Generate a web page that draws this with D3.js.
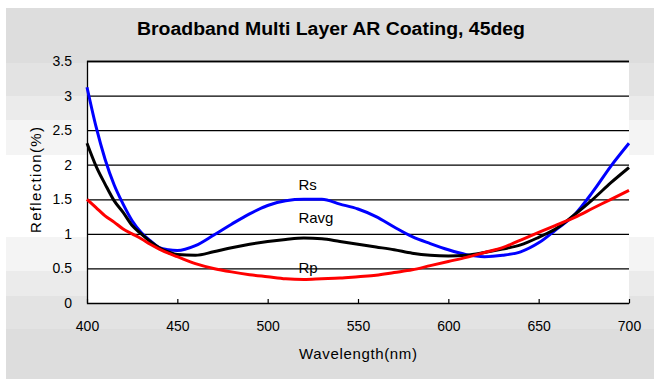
<!DOCTYPE html>
<html>
<head>
<meta charset="utf-8">
<script src="https://cdn.jsdelivr.net/npm/d3@7/dist/d3.min.js"></script>
<style>
  html, body { margin: 0; padding: 0; background: #ffffff; }
  svg { display: block; font-family: "Liberation Sans", Arial, sans-serif; }
</style>
</head>
<body>
<svg id="chart" width="661" height="387"></svg>
<script>
const title = "Broadband Multi Layer AR Coating, 45deg";
const xLabel = "Wavelength(nm)";
const yLabel = "Reflection(%)";
const xTicks = [400, 450, 500, 550, 600, 650, 700];
const yTicks = [0, 0.5, 1, 1.5, 2, 2.5, 3, 3.5];
const wavelengths = [400,405,410,415,420,425,430,435,440,445,450,460,470,480,490,500,510,520,530,540,550,560,570,580,590,600,610,620,630,640,650,660,670,680,690,700];
const rs   = [3.12,2.55,2.08,1.71,1.43,1.19,1.02,0.90,0.80,0.77,0.76,0.83,0.98,1.14,1.29,1.41,1.48,1.50,1.50,1.43,1.36,1.25,1.10,0.96,0.86,0.77,0.70,0.67,0.69,0.74,0.87,1.07,1.28,1.61,1.98,2.31];
const ravg = [2.31,1.98,1.72,1.48,1.31,1.12,1.00,0.89,0.80,0.74,0.70,0.69,0.74,0.80,0.85,0.89,0.92,0.94,0.93,0.89,0.85,0.81,0.77,0.72,0.69,0.68,0.69,0.73,0.78,0.84,0.95,1.08,1.28,1.50,1.74,1.96];
const rp   = [1.50,1.38,1.26,1.17,1.07,1.00,0.93,0.85,0.78,0.72,0.67,0.57,0.50,0.45,0.41,0.38,0.35,0.34,0.35,0.36,0.38,0.40,0.44,0.48,0.54,0.60,0.66,0.73,0.80,0.91,1.02,1.13,1.24,1.37,1.50,1.63];
const seriesNames = ["Rs", "Ravg", "Rp"];
const seriesColors = ["#0000ff", "#000000", "#ff0000"];
const seriesValues = [rs, ravg, rp];
// inline labels: [wavelength, value] anchor in data space
const labelPos = [[517, 1.63], [517, 1.15], [517, 0.43]];

const svg = d3.select("#chart");

// frame background with stepped bands
const frame = {x0: 6, y0: 8, x1: 654, y1: 379};
const bands = [
  [8, 63, "#dddddd"], [63, 96, "#e3e3e3"], [96, 120, "#ebebeb"], [120, 155, "#f4f4f4"],
  [155, 237, "#ffffff"], [237, 271, "#f4f4f4"], [271, 296, "#ebebeb"], [296, 329, "#e3e3e3"], [329, 379, "#dddddd"]
];
svg.append("g").selectAll("rect").data(bands).join("rect")
  .attr("x", frame.x0).attr("width", frame.x1 - frame.x0)
  .attr("y", d => d[0]).attr("height", d => d[1] - d[0])
  .attr("fill", d => d[2]);

const plot = {left: 87, right: 629, top: 61, bottom: 303};
const x = d3.scaleLinear().domain([400, 700]).range([plot.left, plot.right]);
const y = d3.scaleLinear().domain([0, 3.5]).range([plot.bottom, plot.top]);

svg.append("rect")
  .attr("x", plot.left).attr("y", plot.top)
  .attr("width", plot.right - plot.left).attr("height", plot.bottom - plot.top)
  .attr("fill", "#ffffff");

// y axis with grid lines
const yAxis = svg.append("g")
  .attr("transform", `translate(${plot.left},0)`)
  .call(d3.axisLeft(y).tickValues(yTicks).tickSize(-(plot.right - plot.left)).tickPadding(15)
        .tickFormat(d => d3.format("")(d)));
yAxis.select(".domain").attr("stroke", "#000").attr("stroke-width", 1.3);
yAxis.selectAll(".tick line").attr("stroke", "#000").attr("stroke-width", 1.3)
  .attr("display", d => d === 0 ? "none" : null);
yAxis.selectAll(".tick text").attr("font-size", 14).attr("fill", "#000")
  .attr("font-family", "Liberation Sans, Arial, sans-serif");

// x axis
const xAxis = svg.append("g")
  .attr("transform", `translate(0,${plot.bottom})`)
  .call(d3.axisBottom(x).tickValues(xTicks).tickSizeInner(-4).tickSizeOuter(0).tickPadding(18));
xAxis.select(".domain").attr("stroke", "#000").attr("stroke-width", 1.2).attr("stroke-dasharray", "3,2");
xAxis.selectAll(".tick line").attr("stroke", "#000").attr("stroke-width", 1.2);
xAxis.selectAll(".tick text").attr("font-size", 14).attr("fill", "#000")
  .attr("font-family", "Liberation Sans, Arial, sans-serif");

// curves
const line = d3.line().x(d => x(d[0])).y(d => y(d[1])).curve(d3.curveMonotoneX);
svg.append("g").selectAll("path").data(seriesValues).join("path")
  .attr("d", vals => line(wavelengths.map((w, i) => [w, vals[i]])))
  .attr("fill", "none")
  .attr("stroke", (d, i) => seriesColors[i])
  .attr("stroke-width", 3)
  .attr("stroke-linejoin", "round");

// series labels
svg.append("g").selectAll("text").data(seriesNames).join("text")
  .attr("x", (d, i) => x(labelPos[i][0]))
  .attr("y", (d, i) => y(labelPos[i][1]))
  .attr("font-size", 15).attr("fill", "#000")
  .text(d => d);

// title
svg.append("text").attr("x", 331).attr("y", 35).attr("text-anchor", "middle")
  .attr("font-size", 18).attr("font-weight", "bold").attr("fill", "#000")
  .attr("textLength", 388).attr("lengthAdjust", "spacingAndGlyphs").text(title);

// axis titles
svg.append("text").attr("x", (plot.left + plot.right) / 2).attr("y", 359).attr("text-anchor", "middle")
  .attr("font-size", 15).attr("fill", "#000")
  .attr("textLength", 118).attr("lengthAdjust", "spacing").text(xLabel);
svg.append("text").attr("transform", `translate(41,${(plot.top + plot.bottom) / 2 - 2}) rotate(-90)`)
  .attr("text-anchor", "middle").attr("font-size", 15).attr("fill", "#000")
  .attr("textLength", 106).attr("lengthAdjust", "spacing").text(yLabel);
</script>
</body>
</html>
